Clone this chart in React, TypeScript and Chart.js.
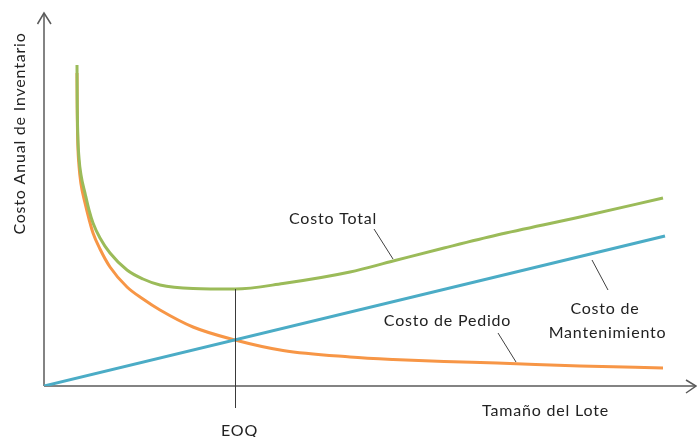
import React, { useEffect, useRef } from "react";
import { Chart, registerables } from "chart.js";

Chart.register(...registerables);

// Lot size (x) and annual inventory cost (y), arbitrary units
const lotSizes = [33, 33.2, 33.8, 35, 37, 41, 45, 49, 56, 66, 83, 99, 116, 149, 191, 239, 306, 349, 400, 453, 536, 619];
const totalCost = [321, 286, 251, 228, 211, 193, 176, 163, 148, 133, 116, 107, 101, 97.5, 97, 102.5, 114, 125, 138, 151, 169, 188];
const orderingCost = [313, 278, 243, 220, 202, 183, 167, 153, 137, 119, 99, 87, 76, 59, 46, 35.5, 29, 26.5, 24.5, 23, 20, 18];
const holdingLots = [0, 621];
const holdingCost = [0, 150];

const eoqLot = 191;
const eoqTotal = 97;

const xMax = 652;
const yMax = 373;

const seriesNames = ["Costo de Pedido", "Costo de Mantenimiento", "Costo Total"];
const colors = { order: "#F79646", hold: "#4BACC6", total: "#9BBB59" };

const FONT = "16px Lato, 'Open Sans', sans-serif";
const TEXT_COLOR = "#222222";
const AXIS_COLOR = "#5a5a5a";

function drawText(ctx: CanvasRenderingContext2D, text: string, x: number, y: number) {
  ctx.save();
  ctx.font = FONT;
  (ctx as any).letterSpacing = "0.8px";
  ctx.fillStyle = TEXT_COLOR;
  ctx.textAlign = "center";
  ctx.textBaseline = "alphabetic";
  ctx.fillText(text, x, y);
  ctx.restore();
}

function line(ctx: CanvasRenderingContext2D, x1: number, y1: number, x2: number, y2: number) {
  ctx.beginPath();
  ctx.moveTo(x1, y1);
  ctx.lineTo(x2, y2);
  ctx.stroke();
}

const decorPlugin = {
  id: "eoqDecor",
  beforeDatasetsDraw(chart: any) {
    const ctx = chart.ctx as CanvasRenderingContext2D;
    const xs = chart.scales.x;
    const ys = chart.scales.y;
    const x0 = xs.getPixelForValue(0);
    const y0 = ys.getPixelForValue(0);
    const xEnd = xs.getPixelForValue(xMax);
    const yTop = ys.getPixelForValue(yMax);
    ctx.save();
    ctx.strokeStyle = AXIS_COLOR;
    ctx.lineWidth = 1.5;
    line(ctx, x0, y0, x0, yTop);
    line(ctx, x0, y0, xEnd, y0);
    // arrow heads
    ctx.beginPath();
    ctx.moveTo(x0 - 6.5, yTop + 11);
    ctx.lineTo(x0, yTop);
    ctx.lineTo(x0 + 7, yTop + 11);
    ctx.stroke();
    ctx.beginPath();
    ctx.moveTo(xEnd - 10, y0 - 6);
    ctx.lineTo(xEnd, y0);
    ctx.lineTo(xEnd - 10, y0 + 7);
    ctx.stroke();
    ctx.restore();
  },
  afterDatasetsDraw(chart: any) {
    const ctx = chart.ctx as CanvasRenderingContext2D;
    const xs = chart.scales.x;
    const ys = chart.scales.y;
    const ex = Math.round(xs.getPixelForValue(eoqLot)) + 0.5;
    const eTop = ys.getPixelForValue(eoqTotal);
    const y0 = ys.getPixelForValue(0);
    ctx.save();
    ctx.strokeStyle = "#3a3a3a";
    ctx.lineWidth = 1;
    line(ctx, ex, eTop, ex, y0 + 22);
    // leader lines
    ctx.strokeStyle = "#404040";
    line(ctx, 374, 229, 393, 259);
    line(ctx, 592, 260, 608, 290);
    line(ctx, 498, 333, 516, 362);
    ctx.restore();

    drawText(ctx, "Costo Total", 333, 224);
    drawText(ctx, "Costo de Pedido", 447.5, 326);
    drawText(ctx, "Costo de", 605, 314);
    drawText(ctx, "Mantenimiento", 607.5, 338);
    drawText(ctx, "Tamaño del Lote", 545.5, 416);
    drawText(ctx, "EOQ", 239.5, 436);

    ctx.save();
    ctx.translate(25, 133.5);
    ctx.rotate(-Math.PI / 2);
    drawText(ctx, "Costo Anual de Inventario", 0, 0);
    ctx.restore();
  },
};

export default function App() {
  const canvasRef = useRef<HTMLCanvasElement | null>(null);

  useEffect(() => {
    const canvas = canvasRef.current;
    if (!canvas) return;
    const chart = new Chart(canvas, {
      type: "line",
      data: {
        datasets: [
          {
            label: seriesNames[2],
            data: lotSizes.map((x, i) => ({ x, y: totalCost[i] })),
            borderColor: colors.total,
            borderWidth: 3,
            pointRadius: 0,
            cubicInterpolationMode: "monotone",
            fill: false,
            order: 0,
          },
          {
            label: seriesNames[1],
            data: holdingLots.map((x, i) => ({ x, y: holdingCost[i] })),
            borderColor: colors.hold,
            borderWidth: 3,
            pointRadius: 0,
            fill: false,
            order: 1,
          },
          {
            label: seriesNames[0],
            data: lotSizes.map((x, i) => ({ x, y: orderingCost[i] })),
            borderColor: colors.order,
            borderWidth: 3,
            pointRadius: 0,
            cubicInterpolationMode: "monotone",
            fill: false,
            order: 2,
          },
        ],
      },
      options: {
        animation: false,
        responsive: false,
        devicePixelRatio: 1,
        layout: { padding: { left: 44, right: 1, top: 13, bottom: 51 } },
        plugins: { legend: { display: false }, tooltip: { enabled: false } },
        scales: {
          x: { type: "linear", min: 0, max: xMax, display: false },
          y: { type: "linear", min: 0, max: yMax, display: false },
        },
      },
      plugins: [decorPlugin],
    } as any);
    return () => chart.destroy();
  }, []);

  return (
    <div style={{ position: "fixed", left: 0, top: 0, width: 697, height: 437, background: "#fff" }}>
      <canvas ref={canvasRef} width={697} height={437} />
    </div>
  );
}
